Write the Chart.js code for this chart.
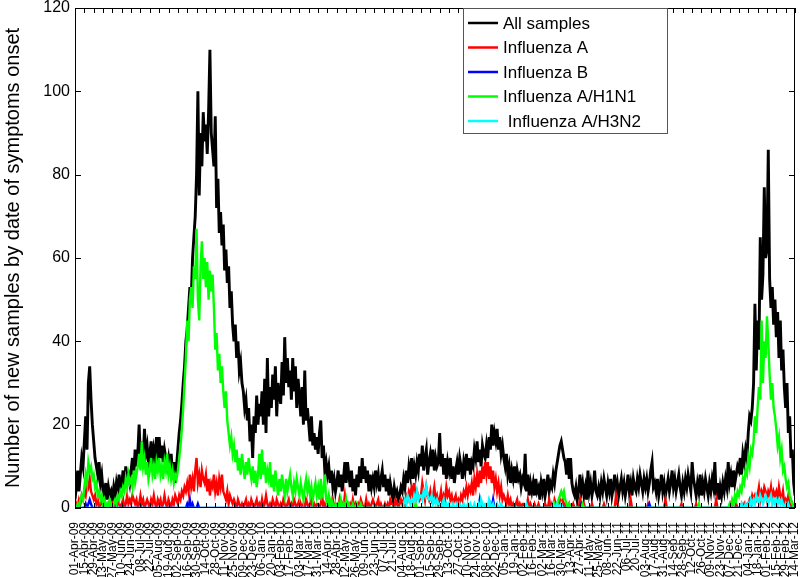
<!DOCTYPE html>
<html>
<head>
<meta charset="utf-8">
<script src="https://cdn.jsdelivr.net/npm/chart.js@4.4.1/dist/chart.umd.min.js"></script>
<style>
  body { margin: 0; background: #fff; }
  canvas { display: block; }
</style>
</head>
<body>
<canvas id="chartSamples" width="800" height="577"></canvas>
<script>
// one value every 2 days, starting 01-Apr-09
const dayStep = 2;

const tickLabels = [
  '01-Apr-09','15-Apr-09','29-Apr-09','13-May-09','27-May-09','10-Jun-09','24-Jun-09','08-Jul-09','22-Jul-09','05-Aug-09',
  '19-Aug-09','02-Sep-09','16-Sep-09','30-Sep-09','14-Oct-09','28-Oct-09','11-Nov-09','25-Nov-09','09-Dec-09','23-Dec-09',
  '06-Jan-10','20-Jan-10','03-Feb-10','17-Feb-10','03-Mar-10','17-Mar-10','31-Mar-10','14-Apr-10','28-Apr-10','12-May-10',
  '26-May-10','09-Jun-10','23-Jun-10','07-Jul-10','21-Jul-10','04-Aug-10','18-Aug-10','01-Sep-10','15-Sep-10','29-Sep-10',
  '13-Oct-10','27-Oct-10','10-Nov-10','24-Nov-10','08-Dec-10','22-Dec-10','05-Jan-11','19-Jan-11','02-Feb-11','16-Feb-11',
  '02-Mar-11','16-Mar-11','30-Mar-11','13-Apr-11','27-Apr-11','11-May-11','25-May-11','08-Jun-11','22-Jun-11','06-Jul-11',
  '20-Jul-11','03-Aug-11','17-Aug-11','31-Aug-11','14-Sep-11','28-Sep-11','12-Oct-11','26-Oct-11','09-Nov-11','23-Nov-11',
  '07-Dec-11','21-Dec-11','04-Jan-12','18-Jan-12','01-Feb-12','15-Feb-12','29-Feb-12','14-Mar-12'
];

const allSamples = [
  2,5,9,4,8,12,10, 16,22,14,30,34,26,20,
  16,12,10,8,11,6,8, 4,3,6,2,5,3,4,
  2,5,3,6,4,8,5, 6,9,5,10,7,8,6,
  9,12,8,14,10,13,20, 12,16,11,19,13,15,11,
  13,16,10,14,12,17,11, 17,12,15,11,14,12,10,
  12,9,13,8,11,6,10, 14,18,21,25,30,34,40,
  43,48,53,50,60,65,70, 80,100,75,90,82,95,88,
  92,85,95,110,90,86,82, 94,72,79,66,71,63,68,
  57,62,54,58,48,52,44, 40,44,36,40,33,35,30,
  28,24,26,21,24,16,20, 12,22,18,27,20,25,22,
  28,20,31,18,36,22,29, 24,32,26,34,22,30,27,
  25,35,27,41,30,36,29, 33,26,36,28,34,24,31,
  27,22,29,20,33,21,24, 20,16,22,15,18,14,17,
  13,18,21,12,15,9,11, 8,10,6,9,5,7,4,
  6,9,5,8,4,7,11, 6,11,8,5,9,4,7,
  3,8,5,10,6,12,7, 10,6,9,4,8,5,7,
  5,9,6,8,4,7,9, 5,8,4,7,3,6,4,
  2,5,3,4,2,3,5, 4,7,5,9,6,10,8,
  12,7,10,8,11,9,13, 10,15,9,12,14,8,11,
  13,10,14,9,12,10,11, 18,10,13,8,12,7,11,
  9,12,7,10,6,9,11, 8,12,10,7,11,9,13,
  9,12,8,11,10,14,12, 16,11,14,10,15,13,12,
  15,12,17,14,20,15,18, 16,19,14,17,13,15,12,
  10,13,8,10,6,9,7, 10,6,9,7,8,5,7,
  6,13,4,8,3,6,4, 6,3,7,4,5,2,6,
  4,7,3,5,8,4,6, 5,8,6,9,11,13,15,
  16,14,12,11,8,12,7, 12,6,4,3,5,2,4,
  8,4,6,3,5,2,9, 4,6,3,5,9,4,3,
  5,3,6,4,7,5,3, 6,4,7,3,5,8,4,
  6,3,5,7,4,6,3, 5,8,4,6,3,7,5,
  4,7,5,8,6,4,7, 5,7,4,6,9,11,5,
  6,4,7,3,5,8,4, 6,3,5,7,4,6,9,
  5,7,4,6,8,5,3, 6,4,7,5,8,6,4,
  11,7,5,3,6,4,8, 3,6,4,7,5,3,6,
  4,7,5,11,3,6,2, 5,3,6,4,7,5,11,
  6,8,5,9,6,8,10, 9,12,8,13,11,14,12,
  18,22,21,24,30,49,33, 45,38,65,50,56,77,60,
  62,86,55,48,53,44,50, 41,47,36,45,33,38,29,
  24,30,18,22,12,14,6, 3
];

const influenzaA = [
  0,1,0,2,1,3,2, 4,3,6,5,7,4,3,
  2,3,1,2,0,1,2, 0,1,0,0,1,0,0,
  1,0,1,0,2,1,0, 1,2,0,1,3,1,2,
  1,3,2,1,2,0,1, 3,1,2,0,1,2,1,
  0,2,1,3,1,0,2, 1,2,0,1,3,1,0,
  2,1,0,2,1,3,2, 1,3,2,4,3,5,4,
  6,4,8,5,7,4,9, 12,6,8,5,9,7,6,
  8,4,7,3,6,5,8, 4,6,3,7,5,8,4,
  3,2,4,1,3,2,1, 2,1,0,2,1,0,1,
  0,1,2,0,1,0,2, 1,0,1,2,0,1,0,
  2,0,1,3,1,0,1, 0,2,1,0,2,1,0,
  1,0,2,1,0,1,2, 0,1,0,2,1,0,1,
  2,1,0,1,0,2,1, 0,1,2,0,1,0,1,
  1,0,1,3,0,1,0, 0,1,0,1,2,0,1,
  1,0,2,0,1,0,3, 0,1,0,1,0,2,0,
  1,0,1,0,2,1,0, 0,2,0,1,0,1,2,
  1,0,1,2,0,1,0, 0,1,0,1,0,2,1,
  1,0,2,1,0,1,2, 1,2,1,3,2,4,3,
  5,3,6,2,4,3,2, 3,6,4,2,5,3,2,
  4,2,3,5,2,3,1, 2,4,1,3,2,5,3,
  4,2,3,1,2,3,1, 2,1,3,2,4,3,5,
  3,5,4,6,3,7,5, 8,5,9,6,10,7,11,
  8,11,7,10,6,9,5, 7,4,6,3,5,2,3,
  2,1,3,1,2,0,1, 0,1,2,0,1,0,1,
  1,0,0,2,0,1,0, 0,1,0,0,1,0,0,
  0,0,1,0,0,2,0, 1,0,2,1,0,1,2,
  1,2,0,1,0,0,1, 0,0,1,0,0,0,0,
  2,0,0,1,0,0,0, 0,0,1,0,0,0,0,
  0,0,0,0,1,0,0, 0,0,0,0,0,0,3,
  1,0,0,0,0,0,0, 0,0,0,2,0,0,0,
  0,0,0,0,0,0,0, 0,0,1,0,0,0,0,
  0,0,0,0,0,0,0, 0,2,0,0,0,0,0,
  0,0,0,0,0,0,1, 0,0,0,0,0,0,0,
  0,0,0,1,0,0,0, 0,0,0,0,0,0,0,
  0,0,0,0,2,0,0, 0,0,0,0,0,0,0,
  0,1,0,0,0,1,0, 0,0,1,0,1,0,1,
  1,2,1,3,2,3,2, 3,5,2,4,3,5,4,
  2,4,3,5,2,4,3, 4,2,5,3,2,4,1,
  2,1,3,1,0,1,0, 0
];

const influenzaB = [
  0,0,0,0,0,0,0, 0,1,0,1,2,1,0,
  0,0,0,0,0,0,0, 0,0,0,0,0,0,0,
  0,0,0,0,0,0,0, 0,0,0,0,0,0,0,
  0,0,0,0,0,0,0, 0,0,0,0,0,0,0,
  0,0,0,0,0,0,0, 0,0,0,0,0,0,0,
  0,0,0,0,0,0,0, 0,0,0,0,0,0,0,
  1,0,2,0,1,0,0, 0,1,0,0,0,0,0,
  0,0,0,0,0,0,0, 0,0,0,0,0,0,0,
  0,0,0,0,0,0,0, 0,0,0,0,0,0,0,
  0,0,0,0,0,0,0, 0,0,0,0,0,0,0,
  0,0,0,0,0,0,0, 0,0,0,0,0,0,0,
  0,0,0,0,0,0,0, 0,0,0,0,0,0,0,
  0,0,0,0,0,0,0, 0,0,0,0,0,0,0,
  0,0,0,0,0,0,0, 0,0,0,0,0,0,0,
  0,0,0,0,0,0,0, 0,0,0,0,0,0,0,
  0,0,0,0,0,0,0, 0,0,0,0,0,0,0,
  0,0,0,0,0,0,0, 0,0,0,0,0,0,0,
  0,0,0,0,0,0,0, 0,0,0,0,0,0,0,
  0,0,0,0,0,0,0, 0,0,0,0,0,0,0,
  0,0,0,0,0,0,0, 0,0,0,0,0,0,0,
  0,0,0,0,0,0,0, 0,0,0,0,0,0,0,
  0,0,0,0,0,0,0, 0,0,2,0,0,0,0,
  0,0,0,1,0,2,0, 0,0,0,0,0,0,0,
  0,0,0,0,0,0,0, 0,0,0,0,0,0,0,
  0,0,0,0,0,0,0, 0,0,0,0,0,0,0,
  0,0,0,0,0,0,0, 0,0,0,0,0,0,0,
  0,0,0,0,0,0,0, 0,0,0,0,0,0,0,
  0,1,0,0,0,0,0, 0,0,0,0,0,0,0,
  0,0,0,0,0,0,0, 0,0,0,0,0,0,0,
  0,0,0,0,0,0,0, 0,0,0,0,0,0,0,
  0,0,0,0,0,0,0, 0,0,0,1,0,0,0,
  0,0,0,0,0,0,0, 0,0,0,0,0,0,0,
  0,0,0,0,0,0,0, 0,0,0,0,0,0,0,
  0,0,0,0,0,0,0, 0,0,0,0,0,0,0,
  0,0,0,0,0,0,0, 0,0,0,0,0,0,0,
  0,0,0,0,0,0,0, 0,0,0,0,0,0,0,
  0,0,0,0,0,0,0, 0,0,0,0,0,0,0,
  0,0,0,0,0,0,0, 0,0,0,0,0,0,0,
  0,0,0,0,0,0,0, 0
];

const influenzaH1N1 = [
  0,0,1,0,2,3,2, 5,8,6,11,9,10,7,
  8,5,6,3,4,2,3, 1,2,0,1,0,2,1,
  0,1,2,1,3,2,4, 3,5,4,7,5,8,6,
  7,5,9,6,8,10,13, 9,16,10,12,8,11,7,
  9,12,8,10,7,11,9, 12,8,10,7,11,9,13,
  8,10,7,9,6,8,7, 9,12,15,19,24,30,36,
  45,40,50,53,48,58,55, 67,50,45,58,64,55,60,
  53,59,50,57,52,56,48, 38,42,33,37,30,34,28,
  24,28,21,18,15,17,13, 15,11,14,9,12,8,13,
  10,7,11,8,12,9,7, 10,6,9,5,8,13,7,
  14,8,11,6,9,7,11, 5,8,4,9,6,3,7,
  4,8,5,3,7,4,6, 8,5,3,6,4,7,5,
  3,6,4,2,5,7,4, 6,3,5,2,4,6,3,
  5,2,7,3,4,8,2, 1,3,0,2,1,0,1,
  0,1,0,2,0,1,0, 2,0,1,0,0,1,0,
  0,1,0,0,1,0,0, 0,0,0,0,0,0,0,
  0,0,0,0,0,0,0, 0,0,0,0,0,0,0,
  0,0,0,0,0,0,0, 0,0,0,0,0,0,0,
  0,0,0,1,0,0,0, 0,0,0,0,0,0,0,
  0,0,0,0,0,0,0, 0,0,0,0,0,0,0,
  0,0,0,0,0,0,0, 0,0,0,0,0,0,0,
  0,0,0,0,0,0,0, 0,0,0,0,0,0,0,
  0,0,1,0,0,0,0, 0,0,0,0,0,0,0,
  0,0,0,0,0,0,0, 0,0,0,0,0,0,0,
  0,0,0,0,0,0,0, 0,0,0,0,0,0,0,
  0,0,0,0,0,0,0, 0,0,1,0,1,2,3,
  4,3,4,2,1,0,1, 0,0,0,0,0,0,0,
  0,0,1,0,0,0,0, 0,0,0,0,0,0,0,
  0,0,0,0,0,0,0, 0,0,0,0,0,0,0,
  0,0,0,0,0,0,0, 0,0,0,0,0,0,0,
  0,0,0,0,0,0,0, 0,0,0,0,0,0,0,
  0,0,0,0,0,0,0, 0,0,0,0,0,0,0,
  0,0,0,0,0,0,0, 0,0,0,0,0,0,0,
  0,0,0,0,0,1,0, 0,0,0,0,0,0,0,
  0,0,0,0,0,0,0, 0,0,0,0,0,0,0,
  1,0,2,1,3,2,4, 3,5,4,7,6,9,8,
  12,10,14,13,16,22,18, 24,29,26,45,30,40,36,
  46,40,32,26,30,24,22, 19,15,17,12,14,9,10,
  7,5,6,3,2,1,0, 0
];

const influenzaH3N2 = [
  0,0,0,0,0,0,0, 0,0,0,0,0,0,0,
  0,0,0,0,0,0,0, 0,0,0,0,0,0,0,
  0,0,0,0,0,0,0, 0,0,0,0,0,0,0,
  0,0,0,0,0,0,0, 0,0,0,0,0,0,0,
  0,0,0,0,0,0,0, 0,0,0,0,0,0,0,
  0,0,0,0,0,0,0, 0,0,0,0,0,0,0,
  0,0,0,0,0,0,0, 0,0,0,0,0,0,0,
  0,0,0,0,0,0,0, 0,0,0,0,0,0,0,
  0,0,0,0,0,0,0, 0,0,0,0,0,0,0,
  0,0,0,0,0,0,0, 0,0,0,0,0,0,0,
  0,0,0,0,0,0,0, 0,0,0,0,0,0,0,
  0,0,0,0,0,0,0, 0,0,0,0,0,0,0,
  0,0,0,0,0,0,0, 0,0,0,0,0,0,0,
  0,0,0,0,0,0,0, 0,0,0,0,0,0,0,
  0,0,0,0,0,0,0, 0,0,0,0,0,0,0,
  0,0,0,0,0,0,0, 0,0,0,0,0,0,0,
  0,0,0,0,0,0,0, 0,0,0,0,0,0,0,
  0,0,0,0,0,0,0, 0,1,2,1,3,2,1,
  2,1,3,2,4,2,3, 3,2,4,3,5,3,2,
  2,3,1,2,1,2,1, 1,0,1,2,0,1,0,
  1,0,0,1,0,0,1, 0,1,0,0,1,0,0,
  1,0,1,0,0,1,0, 0,1,0,2,1,0,1,
  1,0,2,1,0,1,0, 0,1,0,0,1,0,0,
  0,0,0,0,0,0,0, 0,0,0,0,0,0,0,
  0,0,1,0,0,0,0, 0,0,0,0,0,0,0,
  0,0,0,0,0,0,0, 0,1,0,0,1,0,0,
  1,0,0,0,0,0,0, 0,0,0,0,0,0,0,
  0,0,0,0,0,0,0, 0,0,0,0,0,0,0,
  0,0,0,0,0,0,0, 0,0,0,0,0,0,0,
  0,0,0,0,0,0,0, 0,0,0,0,0,0,0,
  0,0,0,0,0,0,0, 0,0,0,0,0,0,0,
  0,0,0,0,0,0,0, 0,0,0,0,0,0,0,
  0,0,0,0,0,0,0, 0,0,0,0,0,0,0,
  0,0,0,0,0,0,0, 0,0,0,0,0,0,0,
  0,0,0,0,0,0,0, 0,0,0,0,0,0,0,
  0,0,0,0,0,0,0, 0,0,1,0,0,1,0,
  1,0,2,1,2,1,3, 2,1,3,2,1,2,3,
  2,1,2,3,1,2,1, 2,1,2,1,2,1,0,
  1,0,1,0,0,0,0, 0
];

const seriesNames = ['All samples', 'Influenza A', 'Influenza B', 'Influenza A/H1N1', ' Influenza A/H3N2'];
const seriesColors = ['#000000', '#ff0000', '#0000ff', '#00ff00', '#00ffff'];
const seriesValues = [allSamples, influenzaA, influenzaB, influenzaH1N1, influenzaH3N2];

const lastDay = (tickLabels.length - 1) * 14;

function toPoints(values) {
  return values.map((v, i) => ({ x: i * dayStep, y: v }));
}

// matlab style box, inward ticks and legend
const boxPlugin = {
  id: 'boxPlugin',
  afterDraw(chart) {
    const c = chart.ctx;
    const a = chart.chartArea;
    const xs = chart.scales.x;
    const ys = chart.scales.y;
    c.save();
    c.strokeStyle = '#000';
    c.lineWidth = 1;
    c.strokeRect(a.left + 0.5, a.top + 0.5, a.right - a.left - 1, a.bottom - a.top - 1);
    c.beginPath();
    xs.ticks.forEach(t => {
      const px = Math.round(xs.getPixelForValue(t.value)) + 0.5;
      c.moveTo(px, a.bottom); c.lineTo(px, a.bottom - 5);
      c.moveTo(px, a.top); c.lineTo(px, a.top + 5);
    });
    ys.ticks.forEach(t => {
      const py = Math.round(ys.getPixelForValue(t.value)) + 0.5;
      c.moveTo(a.left, py); c.lineTo(a.left + 6, py);
      c.moveTo(a.right, py); c.lineTo(a.right - 6, py);
    });
    c.stroke();

    // legend
    const lx = 463, ly = 8, lw = 204, lh = 125;
    c.fillStyle = '#fff';
    c.fillRect(lx, ly, lw, lh);
    c.strokeStyle = '#555';
    c.strokeRect(lx + 0.5, ly + 0.5, lw, lh);
    c.font = '17px "Liberation Sans", Arial, sans-serif';
    c.textBaseline = 'middle';
    seriesNames.forEach((name, i) => {
      const y = ly + 15 + i * 24.5;
      c.strokeStyle = seriesColors[i];
      c.lineWidth = 2.5;
      c.beginPath();
      c.moveTo(lx + 5, y); c.lineTo(lx + 35, y);
      c.stroke();
      c.fillStyle = '#000';
      c.fillText(name, lx + 40, y + 1);
    });
    c.restore();
  }
};

const ctx = document.getElementById('chartSamples');

new Chart(ctx, {
  type: 'line',
  data: {
    datasets: seriesValues.map((vals, i) => ({
      label: seriesNames[i],
      data: toPoints(vals),
      borderColor: seriesColors[i],
      borderWidth: i === 0 ? 2.9 : 2.4,
      pointRadius: 0,
      tension: 0,
      order: 5 - i
    }))
  },
  options: {
    responsive: false,
    animation: false,
    layout: { padding: { top: 8, right: 5, left: 0, bottom: 0 } },
    scales: {
      x: {
        type: 'linear',
        min: 0,
        max: lastDay,
        grid: { display: false },
        border: { display: false },
        afterFit: s => { s.height = 69; s.paddingLeft = 0; s.paddingRight = 0; },
        ticks: {
          stepSize: 14,
          maxTicksLimit: 200,
          autoSkip: false,
          minRotation: 90,
          maxRotation: 90,
          padding: 6,
          color: '#000',
          font: { family: '"Liberation Sans", Arial, sans-serif', size: 12 },
          callback: v => tickLabels[Math.round(v / 14)]
        }
      },
      y: {
        min: 0,
        max: 120,
        grid: { display: false, drawTicks: false },
        border: { display: false },
        afterFit: s => { s.width = 75; s.paddingTop = 0; s.paddingBottom = 0; },
        ticks: {
          stepSize: 20,
          padding: 5,
          color: '#000',
          font: { family: '"Liberation Sans", Arial, sans-serif', size: 16 }
        },
        title: {
          display: true,
          text: 'Number of new samples by date of symptoms onset',
          color: '#000',
          padding: 1,
          font: { family: '"Liberation Sans", Arial, sans-serif', size: 20 }
        }
      }
    },
    plugins: {
      legend: { display: false },
      tooltip: { enabled: false }
    }
  },
  plugins: [boxPlugin]
});
</script>
</body>
</html>
